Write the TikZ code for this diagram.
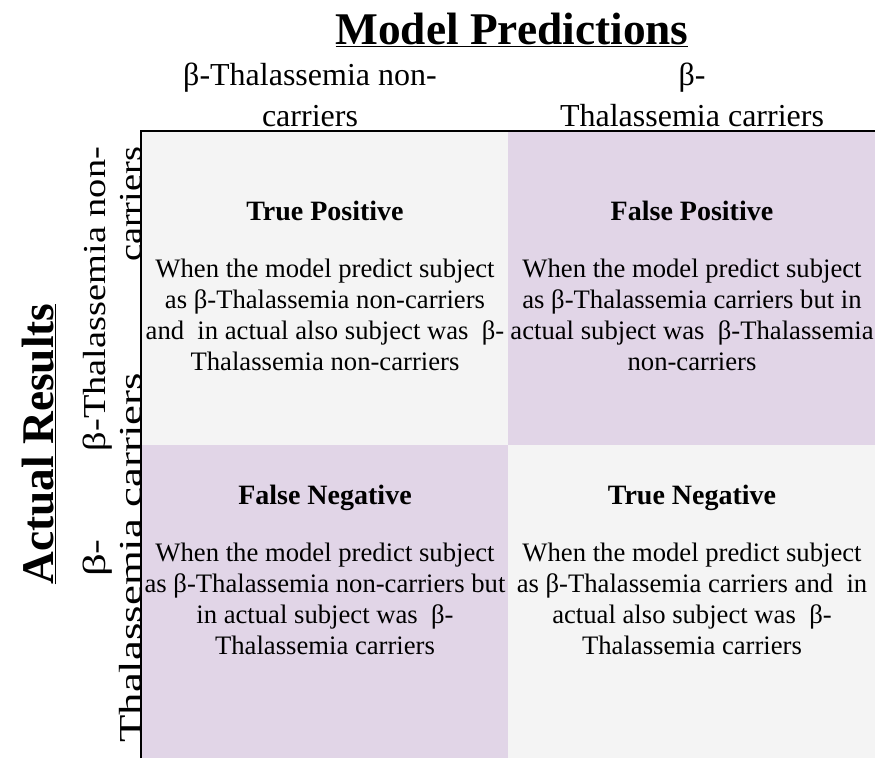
\documentclass[tikz,border=0pt]{standalone}
\usepackage{fontspec}
\setmainfont{Liberation Serif}
\newfontfamily\tallfont[FakeStretch=1.2]{Liberation Serif}
\newfontfamily\longfont[FakeStretch=1.4]{Liberation Serif}
\usetikzlibrary{positioning}
\definecolor{cellgray}{HTML}{F4F4F4}
\definecolor{celllilac}{HTML}{E1D5E7}
\newcommand{\headfont}{\fontsize{21}{25}\selectfont\bfseries}

\begin{document}
\begin{tikzpicture}[x=0.75pt,y=-0.75pt,
		celltext/.style={align=center, inner sep=0pt, font=\fontsize{20}{23.25}\selectfont},
		axislabel/.style={align=center, inner sep=0pt, font=\fontsize{24}{31}\selectfont},
		rowlabel/.style={inner sep=0pt, rotate=90, font=\tallfont\fontsize{24}{27}\selectfont},
		bigtitle/.style={inner sep=0pt, font=\fontsize{34}{40}\selectfont\bfseries}
		]
	\useasboundingbox (0,0) rectangle (875,758);

	% the four cells
	\fill[cellgray] (141,131) rectangle (508,445);
	\fill[celllilac] (508,131) rectangle (875,445);
	\fill[celllilac] (141,445) rectangle (508,758);
	\fill[cellgray] (508,445) rectangle (875,758);
	\draw[line width=1pt] (141,758) -- (141,131) -- (875,131);

	% titles
	\node[bigtitle](Pred) at (512,30){\underline{Model Predictions}};
	\node[bigtitle, rotate=90](Act) at (39,444){\underline{Actual Results}};

	\node[axislabel](ColNeg) at (310,95){β-Thalassemia non-\\carriers};
	\node[axislabel](ColPos) at (692,95){β-\\Thalassemia carriers};
	\node[rowlabel, align=right](RowNeg) at (112,299){β-Thalassemia non-\\carriers};
	\node[rowlabel, align=center, font=\longfont\fontsize{24}{27}\selectfont](RowPos) at (112,558){β-\\Thalassemia carriers};

	% cell texts
	\node[celltext](TP) at (325,286){{\headfont True Positive}\\[20pt]
		When the model predict subject\\as β-Thalassemia non-carriers\\
		and~ in actual also subject was~ β-\\Thalassemia non-carriers};
	\node[celltext](FP) at (692,286){{\headfont False Positive}\\[20pt]
		When the model predict subject\\as β-Thalassemia carriers but in\\
		actual subject was~ β-Thalassemia\\non-carriers};
	\node[celltext](FN) at (325,570){{\headfont False Negative}\\[20pt]
		When the model predict subject\\as β-Thalassemia non-carriers but\\
		in actual subject was~ β-\\Thalassemia carriers};
	\node[celltext](TN) at (692,570){{\headfont True Negative}\\[20pt]
		When the model predict subject\\as β-Thalassemia carriers and~ in\\
		actual also subject was~ β-\\Thalassemia carriers};
\end{tikzpicture}
\end{document}
